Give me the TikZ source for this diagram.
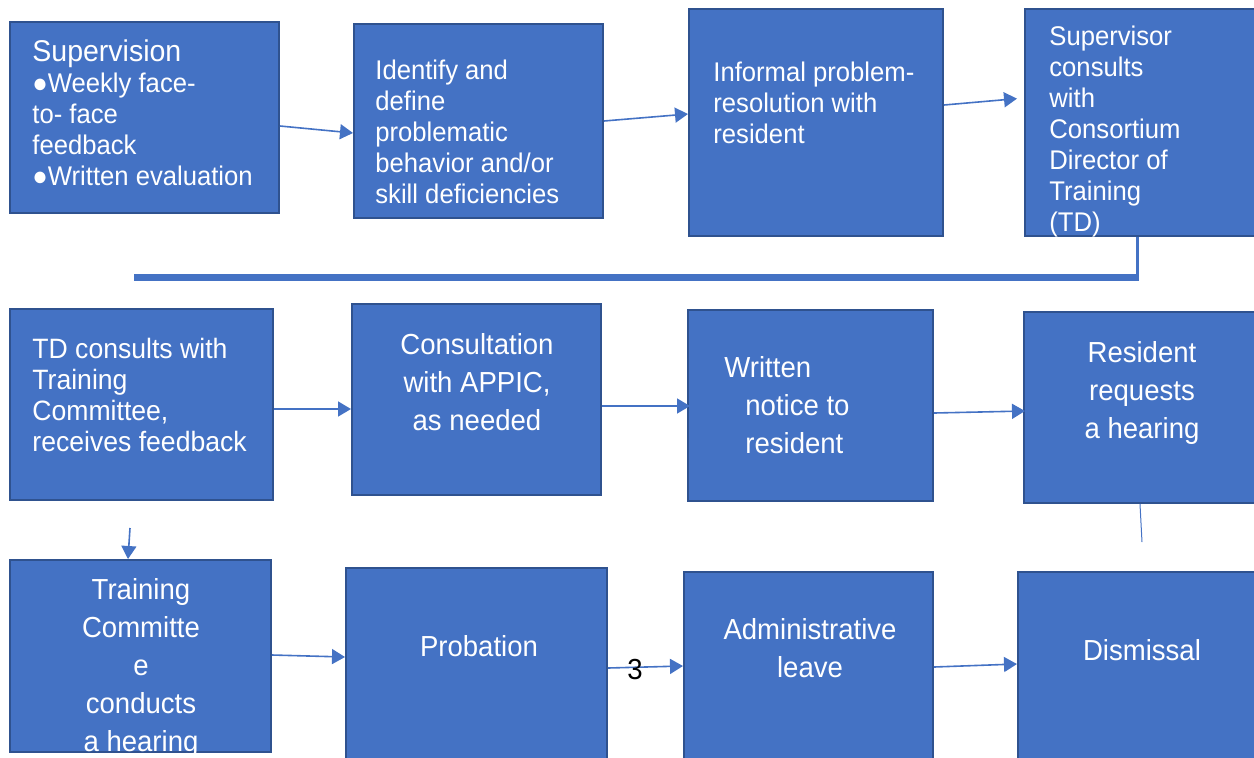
\documentclass[tikz,border=0pt]{standalone}
\usepackage{fontspec}
\setmainfont{Liberation Sans}[FakeStretch=0.95]
\usetikzlibrary{arrows.meta,fit,calc}
\definecolor{boxfill}{HTML}{4472C4}
\definecolor{boxedge}{HTML}{2F528F}
\begin{document}
\begin{tikzpicture}[x=0.5pt,y=-0.5pt,
  box/.style={draw=boxedge, fill=boxfill, line width=1pt, inner sep=0pt},
  txtA/.style={text=white, inner sep=0pt, font={\fontsize{13.5}{15.5}\selectfont}},
  txtC/.style={text=white, inner sep=0pt, font={\fontsize{14}{15.5}\selectfont}},
  txtB/.style={text=white, inner sep=0pt, font={\fontsize{14.5}{19}\selectfont}},
  arr/.style={draw=boxfill, line width=0.8pt, -{Triangle[length=6.5pt,width=7.5pt]}},
  thinline/.style={draw=boxfill, line width=0.5pt},
  hline/.style={draw=boxfill, line width=3.5pt},
  vline/.style={draw=boxfill, line width=1.5pt}]
\clip (0,0) rectangle (1254,757);
% boxes
\node[box, fit={(10,22) (279,213)}] (b1) {};
\node[box, fit={(354,24) (603,218)}] (b2) {};
\node[box, fit={(689,9) (943,236)}] (b3) {};
\node[box, fit={(1025,9) (1262,236)}] (b4) {};
\node[box, fit={(10,309) (273,500)}] (b5) {};
\node[box, fit={(352,304) (601,495)}] (b6) {};
\node[box, fit={(688,310) (933,501)}] (b7) {};
\node[box, fit={(1024,312) (1262,503)}] (b8) {};
\node[box, fit={(10,560) (271,752)}] (b9) {};
\node[box, fit={(346,568) (607,765)}] (b10) {};
\node[box, fit={(684,572) (933,765)}] (b11) {};
\node[box, fit={(1018,572) (1262,765)}] (b12) {};
% texts
\node[txtA, align=left, anchor=west] (t1) at (32,113) {{\fontsize{15}{15.5}\selectfont Supervision}\\●Weekly face-\\to- face\\feedback\\●Written evaluation};
\node[txtA, align=left, anchor=west] (t2) at (375,131.5) {Identify and\\define\\problematic\\behavior and/or\\skill deficiencies};
\node[txtA, align=left, anchor=west] (t3) at (713,103) {Informal problem-\\resolution with\\resident};
\node[txtA, align=left, anchor=west] (t4) at (1049,132) {Supervisor\\consults\\with\\Consortium\\Director of\\Training\\(TD)};
\node[txtC, align=left, anchor=west] (t5) at (32,395) {TD consults with\\Training\\Committee,\\receives feedback};
\node[txtB, align=center] (t6) at (477,382) {Consultation\\with APPIC,\\as needed};
\node[txtB, align=left, anchor=west] (t7) at (724,405) {Written\\\hspace*{10.5pt}notice to\\\hspace*{10.5pt}resident};
\node[txtB, align=center] (t8) at (1142,393) {Resident\\requests\\a hearing};
\begin{scope}
\clip ($(b9.north west)+(1,1)$) rectangle ($(b9.south east)+(-1,-1)$);
\node[txtB, align=center] (t9) at (141,668) {Training\\Committe\\e\\conducts\\a hearing};
\end{scope}
\node[txtB] (t10) at (479,646) {Probation};
\node[txtB, align=center] (t11) at (810,648) {Administrative\\leave};
\node[txtB] (t12) at (1142,650) {Dismissal};
% connectors
\draw[arr] ($(b1.east)+(0,8.5)$) -- ($(b2.west)+(0,12)$);
\draw[arr] ($(b2.east)+(0,0)$) -- ($(b3.west)+(0,-8.5)$);
\draw[arr, shorten >=3.5pt] ($(b3.east)+(0,-17.5)$) -- ($(b4.west)+(0,-24.5)$);
\draw[hline] (1139,277) -- (134,277);
\draw[vline] ($(b4.south)+(-6,0)$) -- ($(b4.south)+(-6,44)$);
\draw[arr] ($(b5.east)+(0,4.5)$) -- ($(b6.west)+(0,9.5)$);
\draw[arr] ($(b6.east)+(0,6.5)$) -- ($(b7.west)+(3,0.5)$);
\draw[arr] ($(b7.east)+(0,7.5)$) -- ($(b8.west)+(2,3.5)$);
\coordinate (c1) at (1142,542);
\draw[thinline] ($(b8.south)+(-3,0)$) -- (c1);
\coordinate (c2) at (130,528);
\draw[arr] (c2) -- ($(b9.north)+(-12.5,0)$);
\draw[arr] ($(b9.east)+(0,-1)$) -- ($(b10.west)+(0,-9.5)$);
\draw[arr] ($(b10.east)+(0,1.5)$) -- ($(b11.west)+(0,-2.5)$);
\node[inner sep=0pt, font={\fontsize{14.5}{17}\selectfont}] (n3) at (635,670) {3};
\draw[arr] ($(b11.east)+(0,-1.5)$) -- ($(b12.west)+(0,-4.5)$);
\end{tikzpicture}
\end{document}
